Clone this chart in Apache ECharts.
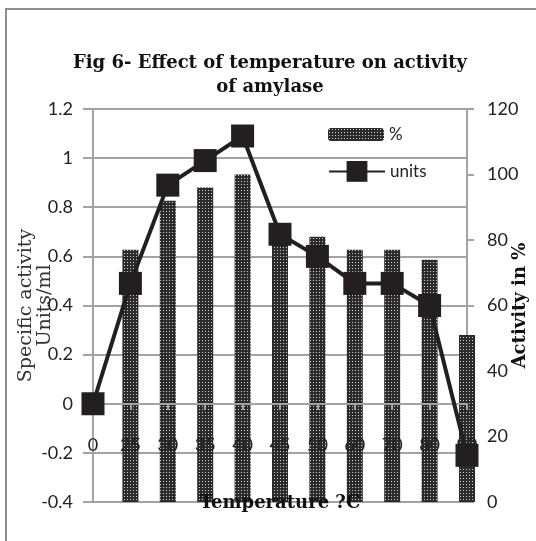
<!DOCTYPE html>
<html>
<head>
<meta charset="utf-8">
<script src="https://cdn.jsdelivr.net/npm/echarts@6/dist/echarts.min.js"></script>
<style>html,body{margin:0;padding:0;background:#fff}#c{width:536px;height:541px}</style>
</head>
<body>
<div id="c"></div>
<script>
const categories = ['0','25','30','35','40','45','50','60','70','80','90'];
const percentValues = [0, 77, 92, 96, 100, 82, 81, 77, 77, 74, 51];
const unitsValues = [0, 0.49, 0.89, 0.99, 1.09, 0.69, 0.60, 0.49, 0.49, 0.40, -0.21];
const leftTicks = {min: -0.4, max: 1.2, interval: 0.2};
const rightTicks = {min: 0, max: 120, interval: 20};

function makePattern(){
  const c = document.createElement('canvas');
  c.width = 3; c.height = 3;
  const g = c.getContext('2d');
  g.fillStyle = '#2b2b2b'; g.fillRect(0,0,3,3);
  g.fillStyle = '#cfcfcf'; g.fillRect(1,1,1,1);
  return c;
}
const pattern = {image: makePattern(), repeat: 'repeat'};

const chart = echarts.init(document.getElementById('c'), null, {renderer:'canvas'});
const labelFont = 'Lato';
const serif = 'DejaVu Serif';
const grayLine = '#a3a3a3';
chart.setOption({
  animation: false,
  title: {
    text: 'Fig 6- Effect of temperature on activity\nof amylase',
    left: 265, top: 46, textAlign: 'center',
    textStyle: {fontFamily: serif, fontWeight: 'bold', fontSize: 18, lineHeight: 24, color: '#111'}
  },
  graphic: [{
    type: 'rect', shape: {x: 6, y: 9, width: 700, height: 700},
    style: {fill: 'none', stroke: '#8e8e8e', lineWidth: 2}, silent: true
  }],
  legend: [{
    data: ['%'], left: 323, top: 121, itemWidth: 56, itemHeight: 13,
    textStyle: {fontFamily: labelFont, fontSize: 17, color: '#222'}
  }, {
    data: ['units'], left: 323, top: 156, itemWidth: 56, itemHeight: 26,
    textStyle: {fontFamily: labelFont, fontSize: 17, color: '#222'}
  }],
  grid: {left: 93, right: 69, top: 109, bottom: 39, containLabel: false, outerBoundsMode: 'none'},
  xAxis: {
    type: 'category', data: categories, boundaryGap: false, z: 3, offset: -98,
    axisLine: {onZero: false, lineStyle: {color: grayLine, width: 2}},
    axisTick: {show: true, length: 6, lineStyle: {color: grayLine, width: 2}},
    axisLabel: {margin: 32, fontFamily: labelFont, fontSize: 18, color: '#222', interval: 0},
    name: 'Temperature ?C', nameLocation: 'middle', nameGap: 90, nameMoveOverlap: false,
    nameTextStyle: {fontFamily: serif, fontWeight: 'bold', fontSize: 18, color: '#111'}
  },
  yAxis: [{
    type: 'value', position: 'left', min: leftTicks.min, max: leftTicks.max, interval: leftTicks.interval,
    axisLine: {show: true, lineStyle: {color: grayLine, width: 2}},
    axisTick: {show: true, length: 10, lineStyle: {color: grayLine, width: 2}},
    splitLine: {show: true, lineStyle: {color: grayLine, width: 2}},
    axisLabel: {margin: 20, fontFamily: labelFont, fontSize: 18, color: '#222',
      formatter: v => String(Math.round(v*10)/10)},
    name: 'Specific activity\nUnits/ml', nameLocation: 'middle', nameGap: 38, nameRotate: 90, nameMoveOverlap: false,
    nameTextStyle: {fontFamily: serif, fontSize: 19, lineHeight: 19, color: '#333'}
  }, {
    type: 'value', position: 'right', min: rightTicks.min, max: rightTicks.max, interval: rightTicks.interval,
    axisLine: {show: true, lineStyle: {color: grayLine, width: 2}},
    axisTick: {show: true, length: 7, lineStyle: {color: grayLine, width: 2}},
    splitLine: {show: false},
    axisLabel: {margin: 20, fontFamily: labelFont, fontSize: 18, color: '#222'},
    name: 'Activity in %', nameLocation: 'middle', nameGap: 44, nameRotate: 90, nameMoveOverlap: false,
    nameTextStyle: {fontFamily: serif, fontWeight: 'bold', fontSize: 18, color: '#111'}
  }],
  series: [{
    name: '%', type: 'bar', yAxisIndex: 1, data: percentValues, barWidth: 16, clip: true,
    itemStyle: {color: pattern}
  }, {
    name: 'units', type: 'line', yAxisIndex: 0, data: unitsValues, z: 5,
    symbol: 'rect', symbolSize: 23,
    lineStyle: {color: '#231f20', width: 4},
    itemStyle: {color: '#231f20'}
  }]
});
</script>
</body>
</html>
